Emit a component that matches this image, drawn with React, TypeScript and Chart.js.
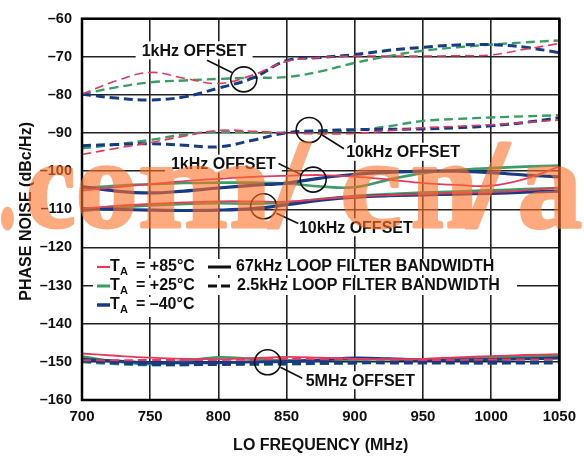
import React, { useEffect, useRef } from "react";
import { Chart, registerables } from "chart.js";

Chart.register(...registerables);

const FONT = '"Liberation Sans", Arial, Helvetica, sans-serif';

// LO frequency sample points (MHz)
const FREQ_MHZ = [700, 725, 750, 775, 800, 825, 850, 875, 900, 925, 950, 975, 1000, 1025, 1050];

// ---- 1kHz offset, 2.5kHz loop filter (dashed)
const PN_1K_25_P85 = [-79.8, -76.3, -74.1, -75.6, -77.0, -74.8, -71.2, -70.2, -69.8, -69.8, -69.8, -69.7, -69.5, -68.0, -66.5];
const PN_1K_25_P25 = [-79.8, -78.0, -76.7, -76.2, -75.8, -75.5, -75.3, -73.8, -71.6, -69.8, -68.4, -67.5, -66.8, -66.2, -65.7];
const PN_1K_25_M40 = [-79.8, -80.8, -81.3, -80.5, -78.2, -75.6, -71.0, -70.2, -69.4, -68.3, -67.5, -66.9, -66.8, -67.5, -68.9];
// ---- 10kHz offset, 2.5kHz loop filter (dashed)
const PN_10K_25_P85 = [-95.6, -94.0, -92.5, -90.8, -89.3, -89.5, -90.0, -90.2, -90.1, -89.4, -88.6, -88.2, -87.8, -87.2, -86.6];
const PN_10K_25_P25 = [-94.0, -93.0, -91.8, -90.4, -89.7, -89.8, -89.9, -89.6, -89.3, -88.2, -86.8, -86.3, -85.9, -85.6, -85.3];
const PN_10K_25_M40 = [-93.3, -93.0, -92.8, -93.2, -93.6, -91.9, -89.9, -89.4, -89.1, -89.0, -88.9, -88.6, -88.1, -87.2, -86.0];
// ---- 1kHz offset, 67kHz loop filter (solid)
const PN_1K_67_P85 = [-105.1, -104.2, -103.4, -102.6, -102.0, -101.5, -101.2, -101.0, -101.4, -102.2, -103.1, -103.6, -103.8, -102.0, -98.8];
const PN_1K_67_P25 = [-104.5, -103.8, -103.4, -103.1, -103.0, -103.0, -103.2, -104.0, -104.2, -102.2, -100.5, -99.7, -99.2, -98.8, -98.5];
const PN_1K_67_M40 = [-104.0, -105.2, -105.7, -105.2, -104.4, -103.7, -103.1, -101.8, -100.8, -100.3, -100.0, -100.0, -100.4, -101.0, -101.5];
// ---- 10kHz offset, 67kHz loop filter (solid)
const PN_10K_67_P85 = [-109.8, -109.1, -108.6, -108.2, -107.9, -107.9, -108.0, -107.3, -106.7, -106.3, -106.0, -105.7, -105.5, -105.0, -104.3];
const PN_10K_67_P25 = [-110.4, -109.6, -109.0, -108.6, -108.4, -108.5, -108.2, -107.3, -106.5, -106.0, -105.6, -105.3, -105.0, -104.7, -104.4];
const PN_10K_67_M40 = [-109.8, -110.0, -110.2, -110.3, -110.2, -109.8, -108.8, -107.6, -106.8, -106.4, -106.2, -106.0, -105.8, -105.5, -105.2];
// ---- 5MHz offset
const PN_5M_67_P85 = [-147.8, -148.4, -148.9, -149.2, -149.3, -149.0, -148.7, -148.9, -149.2, -149.3, -149.2, -148.8, -148.5, -148.2, -148.0];
const PN_5M_25_P85 = [-149.6, -149.6, -149.5, -149.5, -149.5, -149.4, -149.2, -149.3, -149.3, -149.4, -149.5, -149.5, -149.4, -149.4, -149.4];
const PN_5M_67_P25 = [-148.6, -149.9, -150.6, -149.8, -148.8, -149.2, -149.6, -149.5, -149.4, -149.3, -149.5, -149.2, -148.8, -148.6, -148.5];
const PN_5M_25_P25 = [-150.0, -150.5, -150.8, -150.8, -150.6, -150.6, -150.6, -150.4, -150.3, -150.0, -149.9, -150.1, -150.3, -150.0, -149.8];
const PN_5M_67_M40 = [-149.3, -149.8, -150.2, -150.2, -150.2, -150.0, -149.9, -149.5, -149.0, -149.2, -149.5, -149.5, -149.4, -149.2, -149.0];
const PN_5M_25_M40 = [-149.7, -150.2, -150.6, -150.6, -150.6, -150.5, -150.4, -150.3, -150.2, -150.2, -150.2, -150.2, -150.2, -150.2, -150.2];

const X_MIN = 700, X_MAX = 1050, X_STEP = 50;
const Y_MIN = -160, Y_MAX = -60, Y_STEP = 10;

const RED = "#E63A5C";
const GREEN = "#3A9E66";
const BLUE = "#173B85";

const LEGEND_TEMPS = ["+85°C", "+25°C", "–40°C"];
const LEGEND_BW = ["67kHz LOOP FILTER BANDWIDTH", "2.5kHz LOOP FILTER BANDWIDTH"];

const X_TITLE = "LO FREQUENCY (MHz)";
const Y_TITLE = "PHASE NOISE (dBc/Hz)";
const WATERMARK = ".com/cn/a";
// watermark glyph ink boxes [left, width] in px
const WM_BOXES = [[0, 15], [28, 47], [78, 57], [140, 132], [266, 46], [343, 58], [412, 66], [464, 48], [520, 62]];

// annotations: label, text centre, leader line, circle (data units)
const ANNOTATIONS = [
  { text: "1kHz OFFSET", tx: 782.2, ty: -68.3, l: [791.7, -70.9, 809.9, -74.1], c: [818.6, -75.9] },
  { text: "10kHz OFFSET", tx: 935.4, ty: -94.9, l: [876.1, -90.5, 892.1, -94.1], c: [866.6, -89.2] },
  { text: "1kHz OFFSET", tx: 803.7, ty: -98.0, l: [844.1, -98.0, 860.8, -100.9], c: [869.5, -102.2] },
  { text: "10kHz OFFSET", tx: 900.8, ty: -114.7, l: [842.6, -111.0, 858.6, -113.7], c: [833.2, -109.2] },
  { text: "5MHz OFFSET", tx: 904.1, ty: -154.8, l: [845.5, -151.4, 861.5, -154.3], c: [836.1, -150.1] },
];

function ds(values: number[], color: string, width: number, dashed: boolean) {
  return {
    data: FREQ_MHZ.map((f, i) => ({ x: f, y: values[i] })),
    borderColor: color,
    backgroundColor: color,
    borderWidth: width,
    borderDash: dashed ? [9, 5] : [],
    pointRadius: 0,
    tension: 0.4,
    fill: false,
  };
}

const overlayPlugin = {
  id: "overlay",
  afterDatasetsDraw(chart: any) {
    const ctx = chart.ctx as CanvasRenderingContext2D;
    const { left, top, right, bottom } = chart.chartArea;
    const xs = chart.scales.x, ys = chart.scales.y;
    const px = (v: number) => xs.getPixelForValue(v);
    const py = (v: number) => ys.getPixelForValue(v);
    ctx.save();

    // annotations
    ctx.font = `bold 16px ${FONT}`;
    ctx.textBaseline = "middle";
    ctx.textAlign = "center";
    for (const a of ANNOTATIONS) {
      const cx = px(a.tx), cy = py(a.ty);
      const w = ctx.measureText(a.text).width;
      ctx.fillStyle = "#fff";
      ctx.fillRect(cx - w / 2 - 6, cy - 9, w + 12, 18);
      ctx.fillStyle = "#111";
      ctx.fillText(a.text, cx, cy + 1);
      ctx.strokeStyle = "#111";
      ctx.lineWidth = 1.6;
      ctx.setLineDash([]);
      ctx.beginPath();
      ctx.moveTo(px(a.l[0]), py(a.l[1]));
      ctx.lineTo(px(a.l[2]), py(a.l[3]));
      ctx.stroke();
      ctx.beginPath();
      ctx.ellipse(px(a.c[0]), py(a.c[1]), 13, 12.5, 0, 0, Math.PI * 2);
      ctx.stroke();
    }

    // legend
    const rows = [267, 286, 305];
    const colors = [RED, GREEN, BLUE];
    const widths = [2.2, 3, 3.5];
    ctx.textAlign = "left";
    ctx.fillStyle = "#fff";
    ctx.fillRect(93, rows[0] - 8, 410, 16);
    ctx.fillRect(93, rows[1] - 8, 424, 17);
    ctx.fillRect(93, rows[2] - 8, 106, 20);
    for (let i = 0; i < 3; i++) {
      const y = rows[i];
      ctx.strokeStyle = colors[i];
      ctx.lineWidth = widths[i];
      ctx.setLineDash([]);
      ctx.beginPath();
      ctx.moveTo(97, y);
      ctx.lineTo(110, y);
      ctx.stroke();
      ctx.fillStyle = "#111";
      ctx.font = `bold 16px ${FONT}`;
      ctx.fillText("T", 110, y);
      ctx.font = `bold 11px ${FONT}`;
      ctx.fillText("A", 120, y + 5);
      ctx.font = `bold 16px ${FONT}`;
      ctx.fillText("= " + LEGEND_TEMPS[i], 136, y);
    }
    ctx.strokeStyle = "#111";
    ctx.lineWidth = 3;
    ctx.beginPath();
    ctx.moveTo(208, rows[0]);
    ctx.lineTo(231, rows[0]);
    ctx.stroke();
    ctx.setLineDash([9, 4]);
    ctx.beginPath();
    ctx.moveTo(208, rows[1]);
    ctx.lineTo(231, rows[1]);
    ctx.stroke();
    ctx.setLineDash([]);
    ctx.fillStyle = "#111";
    ctx.fillText(LEGEND_BW[0], 236, rows[0]);
    ctx.fillText(LEGEND_BW[1], 237, rows[1]);

    // plot border
    ctx.strokeStyle = "#000";
    ctx.lineWidth = 2.5;
    ctx.strokeRect(left, top, right - left, bottom - top);
    ctx.restore();
  },
  afterDraw(chart: any) {
    const ctx = chart.ctx as CanvasRenderingContext2D;
    const { left, right, top, bottom } = chart.chartArea;
    ctx.save();
    ctx.fillStyle = "#111";
    ctx.font = `bold 16px ${FONT}`;
    ctx.textAlign = "center";
    ctx.textBaseline = "middle";
    ctx.fillText(X_TITLE, (left + right) / 2, 446);
    ctx.save();
    ctx.translate(27, (top + bottom) / 2 + 2);
    ctx.rotate(-Math.PI / 2);
    ctx.fillText(Y_TITLE, 0, 0);
    ctx.restore();
    ctx.restore();

    // watermark: opaque glyphs on a layer, composited with transparency
    const layer = document.createElement("canvas");
    layer.width = chart.width;
    layer.height = chart.height;
    const lc = layer.getContext("2d") as CanvasRenderingContext2D;
    lc.font = `bold 127px "Liberation Serif", "Times New Roman", serif`;
    lc.textAlign = "left";
    lc.textBaseline = "alphabetic";
    lc.fillStyle = "rgb(255,112,40)";
    lc.strokeStyle = "rgb(255,112,40)";
    lc.lineJoin = "round";
    const thick = 3;
    WATERMARK.split("").forEach((ch, i) => {
      const m = lc.measureText(ch);
      const inkW = m.actualBoundingBoxLeft + m.actualBoundingBoxRight;
      const [bx, bw] = WM_BOXES[i];
      const sx = (bw - thick) / inkW;
      lc.save();
      lc.translate(bx + thick / 2, 227);
      lc.scale(sx, 1);
      lc.lineWidth = thick / sx;
      lc.fillText(ch, m.actualBoundingBoxLeft, 0);
      lc.restore();
      lc.save();
      lc.translate(bx + thick / 2, 227);
      lc.lineWidth = thick;
      lc.scale(sx, 1);
      lc.strokeText(ch, m.actualBoundingBoxLeft, 0);
      lc.restore();
    });
    ctx.save();
    ctx.globalAlpha = 0.6;
    ctx.drawImage(layer, 0, 0);
    ctx.restore();
  },
};

export default function App() {
  const ref = useRef<HTMLCanvasElement | null>(null);
  useEffect(() => {
    if (!ref.current) return;
    const datasets = [
      ds(PN_1K_25_P85, RED, 1.6, true),
      ds(PN_10K_25_P85, RED, 1.6, true),
      ds(PN_1K_67_P85, RED, 1.8, false),
      ds(PN_10K_67_P85, RED, 1.8, false),
      ds(PN_5M_67_P85, RED, 1.8, false),
      ds(PN_5M_25_P85, RED, 2, true),
      ds(PN_1K_25_M40, BLUE, 3, true),
      ds(PN_10K_25_M40, BLUE, 3, true),
      ds(PN_1K_67_M40, BLUE, 3.2, false),
      ds(PN_10K_67_M40, BLUE, 3.2, false),
      ds(PN_5M_67_M40, BLUE, 3, false),
      ds(PN_5M_25_M40, BLUE, 3.5, true),
      ds(PN_1K_25_P25, GREEN, 2.4, true),
      ds(PN_10K_25_P25, GREEN, 2.4, true),
      ds(PN_1K_67_P25, GREEN, 2.6, false),
      ds(PN_10K_67_P25, GREEN, 2.6, false),
      ds(PN_5M_67_P25, GREEN, 2.6, false),
      ds(PN_5M_25_P25, GREEN, 3, true),
    ];
    const chart = new Chart(ref.current, {
      type: "line",
      data: { datasets: datasets as any },
      options: {
        animation: false,
        responsive: false,
        maintainAspectRatio: false,
        layout: { autoPadding: false, padding: { left: 0, top: 16, right: 21, bottom: 0 } },
        plugins: { legend: { display: false }, tooltip: { enabled: false }, title: { display: false } },
        scales: {
          x: {
            type: "linear",
            min: X_MIN,
            max: X_MAX,
            afterFit: (s: any) => { s.height = 56; },
            ticks: {
              stepSize: X_STEP,
              color: "#111",
              padding: 8,
              font: { family: FONT, size: 15, weight: "bold" },
              maxRotation: 0,
              callback: (v: any) => String(v),
            },
            grid: { color: "#222", lineWidth: 1.6, drawTicks: false },
            border: { display: false },
          },
          y: {
            type: "linear",
            min: Y_MIN,
            max: Y_MAX,
            afterFit: (s: any) => { s.width = 82; },
            ticks: {
              stepSize: Y_STEP,
              color: "#111",
              padding: 10,
              font: { family: FONT, size: 14.5, weight: "bold" },
              callback: (v: any) => (v < 0 ? "–" + Math.abs(v) : String(v)),
            },
            grid: { color: "#222", lineWidth: 1.6, drawTicks: false },
            border: { display: false },
          },
        },
      },
      plugins: [overlayPlugin],
    });
    return () => chart.destroy();
  }, []);
  return (
    <div style={{ position: "absolute", left: 0, top: 0, width: 584, height: 456, background: "#fff" }}>
      <canvas ref={ref} width={584} height={456} style={{ display: "block" }} />
    </div>
  );
}
